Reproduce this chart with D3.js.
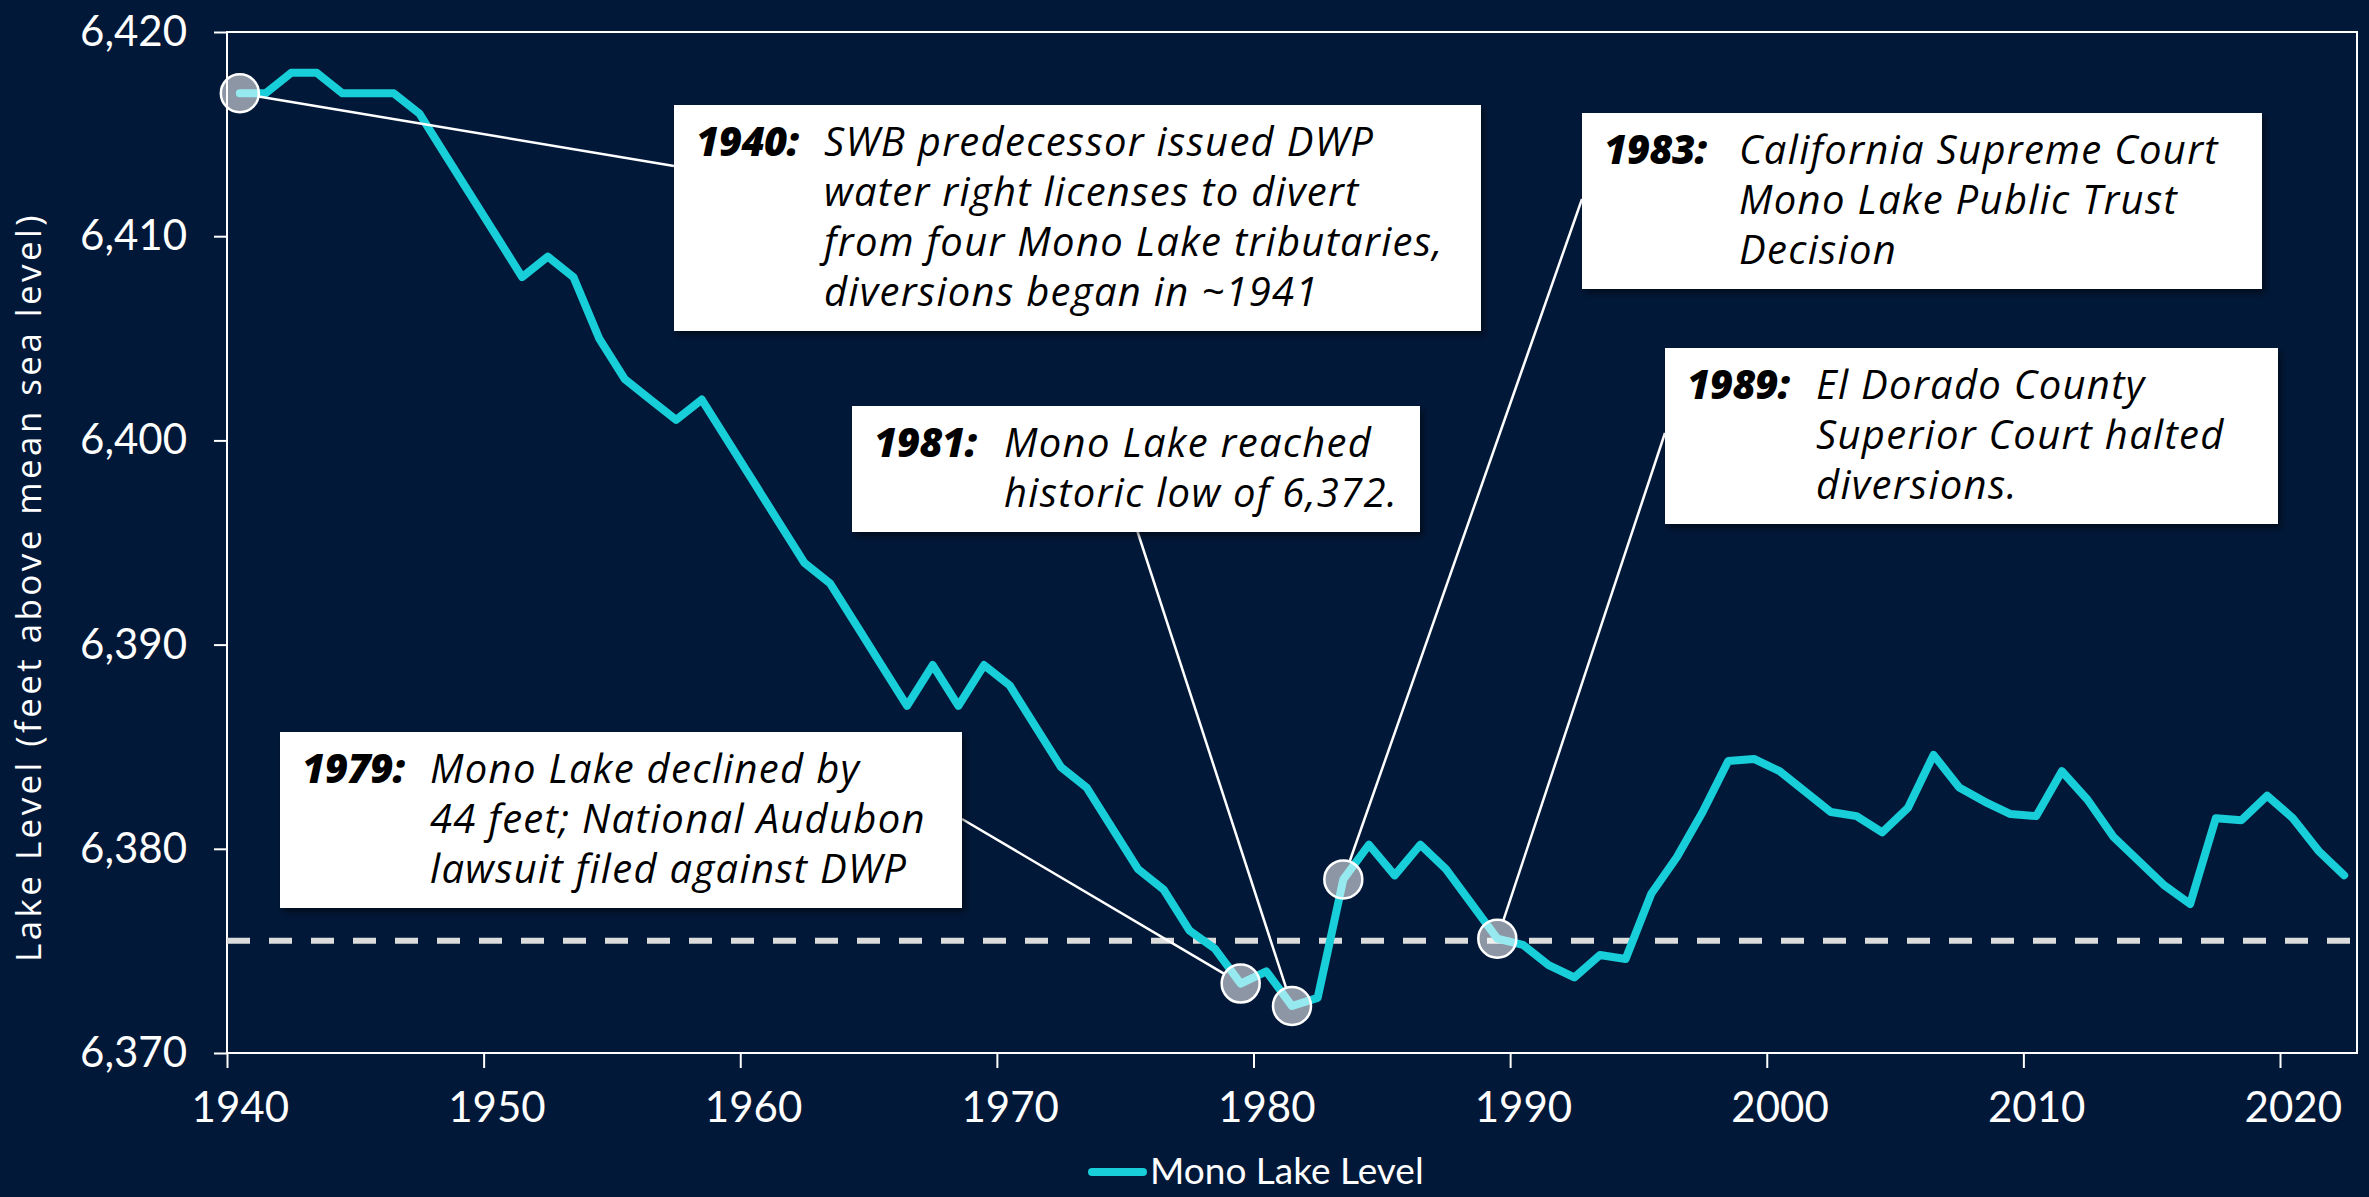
<!DOCTYPE html>
<html>
<head>
<meta charset="utf-8">
<script src="https://cdn.jsdelivr.net/npm/d3@7"></script>
<style>
  body { margin: 0; background: #021838; }
  svg { display: block; font-family: Lato, "Open Sans", sans-serif; }
  .note { font-family: "Open Sans", Lato, sans-serif; font-style: italic; }
</style>
</head>
<body>
<div id="chart"></div>
<script>
var years = d3.range(1940, 2023);
var levels = [
  6417.0, 6417.0, 6418.0, 6418.0, 6417.0, 6417.0, 6417.0, 6416.0, 6414.0, 6412.0,
  6410.0, 6408.0, 6409.0, 6408.0, 6405.0, 6403.0, 6402.0, 6401.0, 6402.0, 6400.0,
  6398.0, 6396.0, 6394.0, 6393.0, 6391.0, 6389.0, 6387.0, 6389.0, 6387.0, 6389.0,
  6388.0, 6386.0, 6384.0, 6383.0, 6381.0, 6379.0, 6378.0, 6376.0, 6375.1, 6373.4,
  6374.0, 6372.3, 6372.7, 6378.5, 6380.2, 6378.7, 6380.2, 6379.0, 6377.3, 6375.6,
  6375.3, 6374.3, 6373.7, 6374.8, 6374.6, 6377.8, 6379.6, 6381.8, 6384.3, 6384.4,
  6383.8, 6382.8, 6381.8, 6381.6, 6380.8, 6382.0, 6384.6, 6383.0, 6382.3, 6381.7,
  6381.6, 6383.8, 6382.4, 6380.6, 6379.4, 6378.2, 6377.3, 6381.5, 6381.4, 6382.6,
  6381.5, 6379.9, 6378.7
];
var targetLevel = 6375.5;
var yTicks = [6370, 6380, 6390, 6400, 6410, 6420];
var xTicks = [1940, 1950, 1960, 1970, 1980, 1990, 2000, 2010, 2020];

var noteYears = [1940, 1979, 1981, 1983, 1989];
var noteLines = [
  ["SWB predecessor issued DWP", "water right licenses to divert", "from four Mono Lake tributaries,", "diversions began in ~1941"],
  ["Mono Lake declined by", "44 feet; National Audubon", "lawsuit filed against DWP"],
  ["Mono Lake reached", "historic low of 6,372."],
  ["California Supreme Court", "Mono Lake Public Trust", "Decision"],
  ["El Dorado County", "Superior Court halted", "diversions."]
];

// box layout: left, top, right, indent x, connector anchor
var noteBoxes = [
  {x0: 674, y0: 105, x1: 1481, indent: 824, ax: 674, ay: 166},
  {x0: 280, y0: 732, x1: 962, indent: 430, ax: 962, ay: 819},
  {x0: 852, y0: 406, x1: 1420, indent: 1004, ax: 1137, ay: 530},
  {x0: 1582, y0: 113, x1: 2262, indent: 1739, ax: 1582, ay: 199},
  {x0: 1665, y0: 348, x1: 2278, indent: 1816, ax: 1665, ay: 433}
];

var width = 2369, height = 1197;
var margin = {top: 32, right: 12, bottom: 144, left: 227};

var data = years.map(function(y, i) { return {year: y, value: levels[i]}; });

var svg = d3.select("#chart").append("svg")
  .attr("width", width)
  .attr("height", height);

var defs = svg.append("defs");
var shadow = defs.append("filter").attr("id", "shadow")
  .attr("x", "-5%").attr("y", "-5%").attr("width", "115%").attr("height", "125%");
shadow.append("feDropShadow")
  .attr("dx", 3).attr("dy", 4).attr("stdDeviation", 3)
  .attr("flood-color", "#000").attr("flood-opacity", 0.5);

var x = d3.scaleLinear()
  .domain([1940, 2023])
  .range([margin.left, width - margin.right]);

var y = d3.scaleLinear()
  .domain([6370, 6420])
  .range([height - margin.bottom, margin.top]);

// data points sit in the middle of each year
function px(yr) { return x(yr + 0.5); }

// y axis
var yAxis = svg.append("g")
  .attr("transform", "translate(" + margin.left + ",0)")
  .call(d3.axisLeft(y).tickValues(yTicks).tickFormat(d3.format(",")).tickSize(13).tickPadding(27));

// x axis
var xAxis = svg.append("g")
  .attr("transform", "translate(0," + y(6370) + ")")
  .call(d3.axisBottom(x).tickValues(xTicks).tickFormat(d3.format("d")).tickSize(15).tickPadding(24));

xAxis.selectAll("text").attr("x", x(1940.5) - x(1940));

[yAxis, xAxis].forEach(function(g) {
  g.select(".domain").remove();
  g.selectAll("line").attr("stroke", "#fff").attr("stroke-width", 2);
  g.selectAll("text")
    .attr("fill", "#fff")
    .style("font-family", "Lato")
    .style("font-size", "42px");
});

// frame
svg.append("rect")
  .attr("x", x(1940))
  .attr("y", y(6420))
  .attr("width", x(2023) - x(1940))
  .attr("height", y(6370) - y(6420))
  .attr("fill", "none")
  .attr("stroke", "#fff")
  .attr("stroke-width", 2);

// y axis title
svg.append("text")
  .attr("transform", "translate(41," + 587 + ")rotate(-90)")
  .attr("text-anchor", "middle")
  .attr("fill", "#fff")
  .style("font-family", "Open Sans")
  .style("font-size", "35px")
  .style("letter-spacing", "3.4px")
  .text("Lake Level (feet above mean sea level)");

// dashed reference level
svg.append("line")
  .attr("x1", x(1940))
  .attr("x2", x(2023))
  .attr("y1", y(targetLevel))
  .attr("y2", y(targetLevel))
  .attr("stroke", "#dcdcdc")
  .attr("stroke-width", 6)
  .attr("stroke-dasharray", "23,19");

// lake level line
var line = d3.line()
  .x(function(d) { return px(d.year); })
  .y(function(d) { return y(d.value); });

svg.append("path")
  .datum(data)
  .attr("d", line)
  .attr("fill", "none")
  .attr("stroke", "#18ced9")
  .attr("stroke-width", 8)
  .attr("stroke-linejoin", "round")
  .attr("stroke-linecap", "round");

// annotations
var r = 19;
noteYears.forEach(function(yr, i) {
  var b = noteBoxes[i];
  var lines = noteLines[i];
  var d = data[yr - 1940];
  var cx = px(yr), cy = y(d.value);

  var dx = b.ax - cx, dy = b.ay - cy;
  var len = Math.sqrt(dx * dx + dy * dy);

  svg.append("line")
    .attr("x1", cx + r * dx / len)
    .attr("y1", cy + r * dy / len)
    .attr("x2", b.ax)
    .attr("y2", b.ay)
    .attr("stroke", "#fff")
    .attr("stroke-width", 2.5);

  svg.append("circle")
    .attr("cx", cx)
    .attr("cy", cy)
    .attr("r", r)
    .attr("fill", "rgba(255,255,255,0.55)")
    .attr("stroke", "#fff")
    .attr("stroke-width", 2.5);

  var boxH = lines.length * 50 + 26;
  var g = svg.append("g").attr("class", "note");

  g.append("rect")
    .attr("x", b.x0)
    .attr("y", b.y0)
    .attr("width", b.x1 - b.x0)
    .attr("height", boxH)
    .attr("fill", "#fff")
    .attr("filter", "url(#shadow)");

  g.append("text")
    .attr("x", b.x0 + 22)
    .attr("y", b.y0 + 51)
    .attr("fill", "#000")
    .style("font-size", "40px")
    .style("font-weight", "800")
    .style("letter-spacing", "-0.5px")
    .text(yr + ":");

  lines.forEach(function(t, j) {
    g.append("text")
      .attr("x", b.indent)
      .attr("y", b.y0 + 51 + j * 50)
      .attr("fill", "#000")
      .style("font-size", "40px")
      .style("letter-spacing", "1.3px")
      .text(t);
  });
});

// legend
var legend = svg.append("g");
legend.append("line")
  .attr("x1", 1092).attr("x2", 1143)
  .attr("y1", 1172).attr("y2", 1172)
  .attr("stroke", "#18ced9")
  .attr("stroke-width", 8)
  .attr("stroke-linecap", "round");
legend.append("text")
  .attr("x", 1150)
  .attr("y", 1184)
  .attr("fill", "#fff")
  .style("font-size", "37px")
  .text("Mono Lake Level");
</script>
</body>
</html>
